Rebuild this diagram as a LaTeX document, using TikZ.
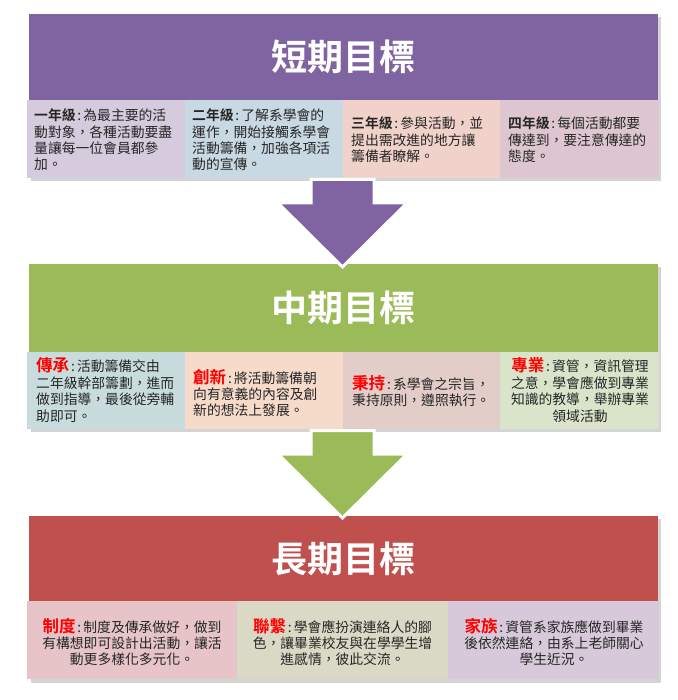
\documentclass[tikz,border=0pt]{standalone}
\usepackage{fontspec}
\setmainfont{Noto Sans CJK TC}[BoldFont={Noto Sans CJK TC Bold}]
\definecolor{hpurple}{HTML}{8064A2}
\definecolor{hgreen}{HTML}{9BBB59}
\definecolor{hred}{HTML}{C0504D}
\definecolor{txt}{HTML}{262626}
\definecolor{shd}{HTML}{D4D4D4}
\definecolor{pa}{HTML}{D6CADD}
\definecolor{pb}{HTML}{C9D9E4}
\definecolor{pc}{HTML}{F0D2CA}
\definecolor{pd}{HTML}{DDC6CF}
\definecolor{ga}{HTML}{C9DCDD}
\definecolor{gb}{HTML}{F6DACA}
\definecolor{gc}{HTML}{E3CDC8}
\definecolor{gd}{HTML}{D9E4CB}
\definecolor{ra}{HTML}{E6C4C8}
\definecolor{rb}{HTML}{D9D9C6}
\definecolor{rc}{HTML}{D7C9D9}
\newcommand{\lbl}[1]{{\fontsize{16.5}{16.5}\selectfont\bfseries\color{red}#1}}
\newcommand{\cln}{\kern1.8pt:\kern2.2pt}
\begin{document}
\begin{tikzpicture}[x=1pt,y=-1pt,
  title/.style={font=\fontsize{36}{40}\selectfont\bfseries, text=white, inner sep=0pt},
  body/.style={font=\fontsize{13.8}{16.4}\selectfont, text=txt, inner sep=0pt},
  bigarrow/.style={draw=white, line width=3pt, line join=miter}]
\useasboundingbox (0,0) rectangle (677,700);
\fill[white] (0,0) rectangle (677,700);

% ---------- short term ----------
\fill[shd] (31,17) rectangle (661,181);
\fill[hpurple] (29,14) rectangle (658,100);
\fill[pa] (27,100) rectangle (185,178);
\fill[pb] (185,100) rectangle (343,178);
\fill[pc] (343,100) rectangle (500,178);
\fill[pd] (500,100) rectangle (659,178);
\node[title] (t1) at (343.5,57) {短期目標};
\node[body,anchor=west,align=left] (a1) at (34,140) {\textbf{一年級}\cln 為最主要的活\\動對象，各種活動要盡\\量讓每一位會員都參\\加。};
\node[body,anchor=west,align=left] (a2) at (192,140) {\textbf{二年級}\cln 了解系學會的\\運作，開始接觸系學會\\活動籌備，加強各項活\\動的宣傳。};
\node[body,anchor=west,align=left] (a3) at (351,140) {\textbf{三年級}\cln 參與活動，並\\提出需改進的地方讓\\籌備者瞭解。};
\node[body,anchor=west,align=left] (a4) at (508,140) {\textbf{四年級}\cln 每個活動都要\\傳達到，要注意傳達的\\態度。};

% ---------- mid term ----------
\fill[shd] (31,267) rectangle (661,432);
\fill[hgreen] (29,264) rectangle (658,352);
\fill[ga] (27,352) rectangle (185,429);
\fill[gb] (185,352) rectangle (343,429);
\fill[gc] (343,352) rectangle (500,429);
\fill[gd] (500,352) rectangle (659,429);
\node[title] (t2) at (343.5,308) {中期目標};
\node[body,anchor=west,align=left] (b1) at (36,390) {\lbl{傳承}\cln 活動籌備交由\\二年級幹部籌劃，進而\\做到指導，最後從旁輔\\助即可。};
\node[body,anchor=west,align=left] (b2) at (193,393) {\lbl{創新}\cln 將活動籌備朝\\向有意義的內容及創\\新的想法上發展。};
\node[body,anchor=west,align=left] (b3) at (352,391) {\lbl{秉持}\cln 系學會之宗旨，\\秉持原則，遵照執行。};
\node[body,align=center] (b4) at (580,390) {\lbl{專業}\cln 資管，資訊管理\\之意，學會應做到專業\\知識的教導，舉辦專業\\領域活動};

% ---------- long term ----------
\fill[shd] (31,519) rectangle (661,683);
\fill[hred] (29,516) rectangle (658,601);
\fill[ra] (27,601) rectangle (237,679);
\fill[rb] (237,601) rectangle (448,679);
\fill[rc] (448,601) rectangle (659,679);
\node[title] (t3) at (343.5,559) {長期目標};
\node[body,align=center] (c1) at (132,642) {\lbl{制度}\cln 制度及傳承做好，做到\\有構想即可設計出活動，讓活\\動更多樣化多元化。};
\node[body,align=center] (c2) at (342.5,642) {\lbl{聯繫}\cln 學會應扮演連絡人的腳\\色，讓畢業校友與在學學生增\\進感情，彼此交流。};
\node[body,align=center] (c3) at (554,642) {\lbl{家族}\cln 資管系家族應做到畢業\\後依然連絡，由系上老師關心\\學生近況。};

% ---------- arrows ----------
\filldraw[bigarrow, fill=hpurple] (311,179.5) -- (374,179.5) -- (374,203) -- (407,203) -- (342.5,267) -- (278,203) -- (311,203) -- cycle;
\filldraw[bigarrow, fill=hgreen] (311,430.5) -- (374,430.5) -- (374,454) -- (407,454) -- (342.5,518) -- (278,454) -- (311,454) -- cycle;
\end{tikzpicture}
\end{document}
